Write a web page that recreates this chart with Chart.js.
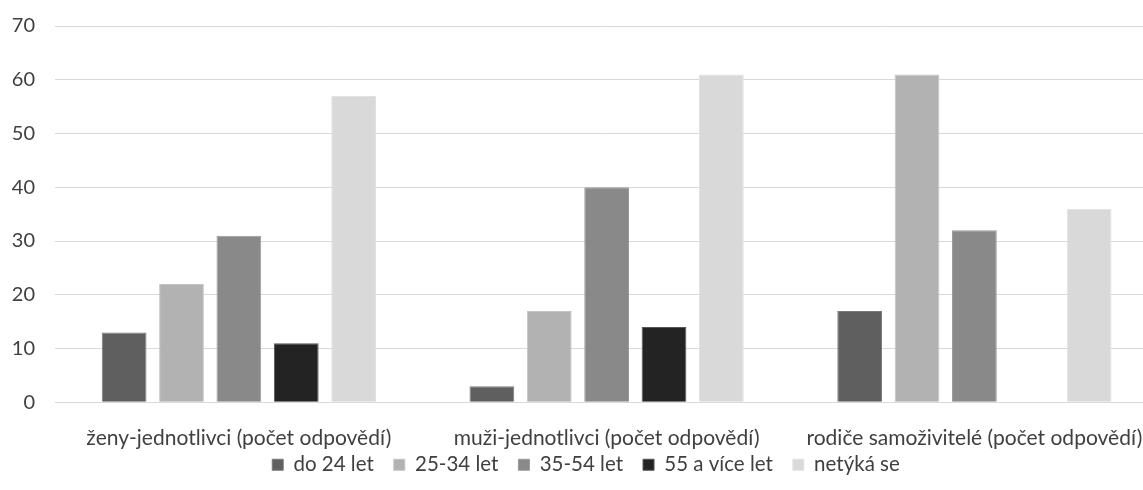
<!DOCTYPE html>
<html>
<head>
<meta charset="utf-8">
<script src="https://cdn.jsdelivr.net/npm/chart.js@4.4.0/dist/chart.umd.min.js"></script>
<style>
html,body{margin:0;padding:0;background:#fff;overflow:hidden;}
#wrap{width:1166px;height:490px;position:relative;}
</style>
</head>
<body>
<div id="wrap"><canvas id="c"></canvas></div>
<script>
const categories = ["ženy-jednotlivci (počet odpovědí)", "muži-jednotlivci (počet odpovědí)", "rodiče samoživitelé (počet odpovědí)"];
const seriesNames = ["do 24 let", "25-34 let", "35-54 let", "55 a více let", "netýká se"];
const do24 = [13, 3, 17];
const s25_34 = [22, 17, 61];
const s35_54 = [31, 40, 32];
const s55plus = [11, 14, 0];
const netyka = [57, 61, 36];
const yTicks = [0, 10, 20, 30, 40, 50, 60, 70];

const fills = ["#5f5f5f", "#b2b2b2", "#898989", "#232323", "#d9d9d9"];
const borders = ["#7a7a7a", "#c4c4c4", "#9a9a9a", "#555555", "#e2e2e2"];
const values = [do24, s25_34, s35_54, s55plus, netyka];
const FONT = 'Lato';

// move the legend row to sit where the reference has it
const legendShift = {
  id: 'legendShift',
  afterLayout(chart) {
    const lg = chart.legend;
    if (lg) { lg.top -= 39; lg.bottom -= 39; }
  }
};

new Chart(document.getElementById('c'), {
  type: 'bar',
  data: {
    labels: categories,
    datasets: seriesNames.map((n, i) => ({
      label: n,
      data: values[i],
      backgroundColor: fills[i],
      borderColor: borders[i],
      borderWidth: 1,
      categoryPercentage: 0.78,
      barPercentage: 0.78
    }))
  },
  options: {
    responsive: true,
    maintainAspectRatio: false,
    animation: false,
    layout: { padding: { top: 26, left: 10, right: 4, bottom: -34 } },
    plugins: {
      tooltip: { enabled: false },
      legend: {
        position: 'bottom',
        labels: {
          boxWidth: 11, boxHeight: 11, padding: 20,
          color: '#404040',
          font: { family: FONT, size: 20.5 }
        }
      }
    },
    scales: {
      x: {
        grid: { display: false, drawTicks: false },
        border: { display: false },
        ticks: { color: '#404040', padding: 23, maxRotation: 0, autoSkip: false, font: { family: FONT, size: 21 } }
      },
      y: {
        min: 0, max: 70,
        afterBuildTicks(axis) { axis.ticks = yTicks.map(v => ({ value: v })); },
        afterFit(axis) { axis.width = 45; axis.paddingTop = 0; axis.paddingBottom = 0; },
        grid: { color: '#d9d9d9', lineWidth: 1, drawTicks: false },
        border: { display: false },
        ticks: { color: '#404040', padding: 20, font: { family: FONT, size: 20 } }
      }
    }
  },
  plugins: [legendShift]
});
</script>
</body>
</html>
